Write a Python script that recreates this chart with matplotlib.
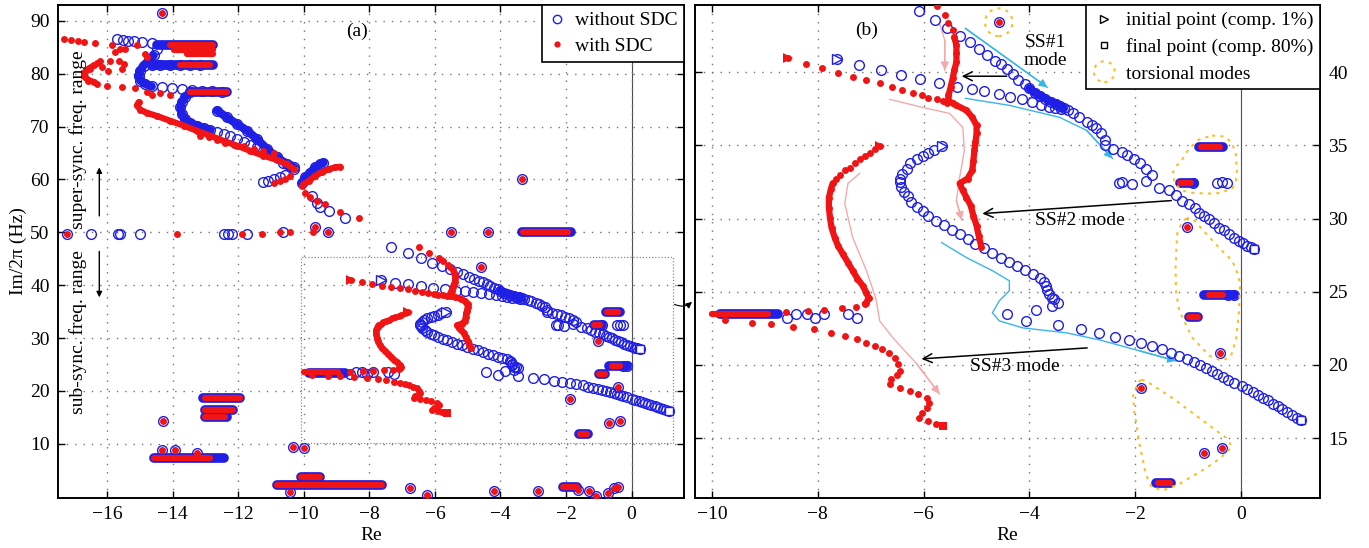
import matplotlib
matplotlib.use("Agg")
import matplotlib.pyplot as plt
import matplotlib.patches as mpatches
from matplotlib.lines import Line2D
from matplotlib.legend_handler import HandlerPatch

BLUE, RED = "#1f1fe6", "#f01414"
CYAN, PINK, GOLD = "#38b6e6", "#f5aaaa", "#f2c12e"

# ---------------- data shared by both panels (Re, Im/2pi) ----------------
# SS#1 without SDC, lower branch (triangle start -> square end)
b_ss1_x = [-7.64, -7.23, -6.81, -6.42, -6.06, -5.70, -5.36, -5.08, -4.85, -4.58, -4.36, -4.15, -3.96,
           -3.79, -3.64, -3.51, -3.40, -3.28, -3.17, -3.06, -2.91, -2.82, -2.74, -2.64, -2.58, -2.57,
           -2.43, -2.26, -2.15, -2.02, -1.92, -1.79, -1.68, -1.55, -1.36, -1.23, -1.11, -0.98, -0.88,
           -0.79, -0.70, -0.60, -0.51, -0.42, -0.32, -0.23, -0.13, -0.04, 0.04, 0.11, 0.18, 0.25]
b_ss1_y = [40.89, 40.48, 40.14, 39.79, 39.52, 39.25, 38.97, 38.84, 38.70, 38.49, 38.29, 38.15, 37.95,
           37.74, 37.60, 37.53, 37.47, 37.40, 37.20, 36.92, 36.58, 36.40, 36.16, 35.82, 35.34, 35.00,
           34.79, 34.52, 34.32, 34.04, 33.77, 33.42, 32.95, 32.12, 31.92, 31.58, 31.23, 31.03, 30.70,
           30.41, 30.20, 30.00, 29.70, 29.38, 29.20, 28.97, 28.70, 28.49, 28.30, 28.15, 28.05, 27.95]
# SS#1 without SDC, upper branch
b_ss1u_x = [-7.33, -6.81, -6.41, -6.08, -5.79, -5.55, -5.32, -5.13, -4.96, -4.81, -4.66, -4.53,
            -4.42, -4.32, -4.21, -4.09, -4.00, -3.90, -3.80, -3.70, -3.60, -3.50, -3.42, -3.35]
b_ss1u_y = [47.30, 46.00, 45.10, 44.20, 43.60, 43.00, 42.50, 42.05, 41.60, 41.20, 40.80, 40.55,
            40.20, 39.90, 39.50, 39.20, 38.90, 38.60, 38.40, 38.20, 38.00, 37.85, 37.70, 37.55]
# SS#2 without SDC
b_ss2_x = [-5.66, -5.81, -5.92, -6.02, -6.13, -6.25, -6.32, -6.40, -6.45, -6.45, -6.43, -6.38, -6.30,
           -6.23, -6.13, -6.02, -5.91, -5.76, -5.62, -5.47, -5.32, -5.17, -5.02, -4.85, -4.70, -4.53,
           -4.38, -4.23, -4.08, -3.94, -3.81, -3.72, -3.68, -3.66, -3.64, -3.58, -3.53, -3.47]
b_ss2_y = [34.93, 34.66, 34.45, 34.25, 34.04, 33.77, 33.42, 33.08, 32.74, 32.47, 32.19, 31.85, 31.51,
           31.16, 30.82, 30.55, 30.21, 29.86, 29.59, 29.25, 28.97, 28.63, 28.29, 28.01, 27.67, 27.33,
           27.05, 26.78, 26.51, 26.23, 25.96, 25.68, 25.41, 25.14, 24.86, 24.59, 24.52, 24.25]
# SS#3 without SDC (square end)
b_ss3_x = [-8.58, -8.42, -8.21, -8.06, -7.89, -7.42, -7.26, -4.43, -4.06, -3.87, -3.58, -3.47, -3.02,
           -2.68, -2.38, -2.11, -1.89, -1.68, -1.49, -1.32, -1.17, -1.02, -0.89, -0.77, -0.66, -0.55,
           -0.45, -0.34, -0.25, -0.13, 0.02, 0.11, 0.23, 0.32, 0.42, 0.51, 0.60, 0.70, 0.77, 0.87,
           0.96, 1.06, 1.13]
b_ss3_y = [23.2, 23.5, 23.5, 23.2, 23.5, 23.5, 23.2, 23.5, 23.0, 23.77, 24.04, 22.74, 22.47, 22.19,
           21.92, 21.71, 21.51, 21.30, 21.10, 20.82, 20.62, 20.41, 20.21, 20.0, 19.79, 19.59, 19.38,
           19.18, 18.97, 18.77, 18.56, 18.36, 18.15, 17.95, 17.74, 17.60, 17.33, 17.19, 16.99, 16.78,
           16.58, 16.37, 16.23]
# SS#1 with SDC (triangle start)
r_ss1_x = [-8.57, -8.23, -7.92, -7.62, -7.34, -7.08, -6.83, -6.60, -6.40, -6.21, -6.04, -5.91, -5.75,
           -5.64, -5.55]
r_ss1_y = [41.0, 40.6, 40.27, 39.93, 39.66, 39.45, 39.25, 38.97, 38.77, 38.56, 38.42, 38.22, 38.15,
           38.01, 37.88]
# SS#2 with SDC (thick)
r_ss2_x = [-6.50, -6.17, -5.89, -5.75, -5.60, -5.53, -5.45, -5.42, -5.38, -5.38, -5.38, -5.42, -5.45,
           -5.49, -5.53, -5.53, -5.45, -5.38, -5.19, -5.08, -5.00, -5.00, -5.02, -5.04, -5.06, -5.08,
           -5.17, -5.32, -5.26, -5.19, -5.11, -5.06, -5.00, -4.96, -4.91]
r_ss2_y = [47.2, 46.0, 45.2, 44.52, 43.9, 43.36, 42.88, 42.4, 41.85, 41.3, 40.7, 40.14, 39.6, 38.97,
           38.42, 38.08, 37.88, 37.74, 37.4, 36.92, 36.37, 35.82, 35.21, 34.66, 33.97, 33.29, 32.74,
           32.4, 31.92, 31.44, 30.89, 30.21, 29.52, 28.84, 28.08]
# second SS#2 with SDC (triangle start), then left along ~23.7 Hz
r_ss2b_x = [-6.83, -6.92, -7.02, -7.11, -7.21, -7.30, -7.40, -7.49, -7.58, -7.66, -7.72, -7.75, -7.79,
            -7.79, -7.77, -7.74, -7.68, -7.62, -7.53, -7.43, -7.34, -7.25, -7.15, -7.08, -7.04, -7.08,
            -7.11, -7.28, -7.55, -7.89, -8.19, -8.60]
r_ss2b_y = [34.93, 34.73, 34.45, 34.25, 34.04, 33.77, 33.49, 33.29, 33.01, 32.74, 32.40, 32.05, 31.44,
            30.75, 30.07, 29.38, 28.70, 28.15, 27.60, 26.99, 26.44, 25.89, 25.41, 24.93, 24.59, 24.25,
            24.18, 23.97, 23.90, 23.77, 23.70, 23.63]
# SS#3 with SDC (square end)
r_ss3_x = [-9.25, -8.89, -8.47, -8.08, -7.75, -7.49, -7.26, -7.08, -6.92, -6.79, -6.66, -6.55, -6.49,
           -6.45, -6.51, -6.62, -6.64, -6.45, -6.26, -6.11, -5.94, -5.89, -5.94, -6.04, -6.08, -5.92,
           -5.77, -5.64]
r_ss3_y = [22.88, 22.8, 22.6, 22.47, 22.19, 21.99, 21.78, 21.51, 21.30, 21.10, 20.82, 20.48, 20.07,
           19.59, 19.32, 19.04, 18.70, 18.42, 18.22, 18.01, 17.74, 17.40, 17.05, 16.71, 16.37, 16.16,
           15.96, 15.82]

# ---------------- super-synchronous region, panel (a) only ----------------
b_sup1_x = [-15.69, -15.52, -15.35, -15.18, -14.94, -14.64, -14.48, -14.58, -14.73, -14.89, -14.99,
            -15.04, -14.99, -14.84, -14.64, -14.33, -14.03, -13.72, -13.41, -13.11, -12.80, -12.49]
b_sup1_y = [86.62, 86.43, 86.24, 86.11, 86.0, 85.8, 84.7, 83.45, 82.5, 81.55, 80.6, 79.66, 78.7,
            78.1, 77.6, 77.45, 77.27, 77.1, 77.0, 76.8, 76.7, 76.6]
b_sup2_x = [-13.47, -13.62, -13.72, -13.77, -13.72, -13.62, -13.47, -13.26, -13.05, -12.85, -12.65,
            -12.45, -12.24, -12.04, -11.84, -11.63, -11.43, -11.23, -11.02, -10.82, -10.62, -10.41, -10.31]
b_sup2_y = [76.5, 75.6, 74.6, 73.7, 72.4, 71.4, 70.7, 70.2, 69.7, 69.3, 69.0, 68.6, 68.2, 67.6, 67.1,
            66.6, 66.1, 65.4, 64.8, 64.2, 63.2, 62.5, 61.9]
b_sup3_x = [-12.65, -12.35, -12.04, -11.73, -11.43, -11.12, -10.82, -10.51, -10.31]
b_sup3_y = [73.02, 71.76, 70.49, 69.23, 67.65, 65.75, 64.17, 62.90, 62.27]
b_nu_x = [-10.06, -9.95, -9.80, -9.65, -9.50, -9.40]
b_nu_y = [59.4, 60.4, 61.3, 62.3, 62.9, 63.2]
b_misc_x = [-11.23, -11.08, -10.92, -10.74, -10.57, -9.75, -9.60, -9.50, -9.24, -8.75,
            -14.64, -14.38, -14.07, -13.77, -13.46, -13.16]
b_misc_y = [59.43, 59.75, 60.0, 60.4, 60.9, 56.9, 55.6, 54.7, 54.0, 52.7,
            81.56, 81.56, 81.56, 81.56, 81.56, 81.56]

r_sup_x = [-15.04, -15.09, -14.99, -14.79, -14.48, -14.08, -13.67, -13.26, -12.86, -12.45, -12.04,
           -11.63, -11.23, -10.82, -10.51, -10.31]
r_sup_y = [74.6, 74.0, 73.2, 72.6, 72.0, 71.1, 70.2, 69.2, 68.3, 67.3, 66.4, 65.4, 64.5, 63.7, 62.9,
           61.95]
r_loop_x = [-16.40, -16.55, -16.67, -16.70, -16.67, -16.57, -16.40]
r_loop_y = [81.6, 81.0, 80.4, 79.8, 79.3, 78.8, 78.4]
r_nu_x = [-10.01, -9.85, -9.65, -9.44, -9.24, -9.04, -8.89]
r_nu_y = [59.1, 59.7, 60.7, 61.4, 61.95, 62.3, 62.4]
r_misc_x = [-17.33, -17.11, -16.90, -16.70, -16.38, -15.85, -15.60, -15.76, -15.91, -16.22, -16.32,
            -16.16, -16.52, -16.57, -16.32, -16.01, -15.55, -15.15, -14.79, -15.45, -15.09, -14.84,
            -14.79, -15.65, -15.48, -15.55, -15.96,
            -14.64, -14.39, -14.08, -13.16, -12.90, -12.65, -12.40, -12.14, -11.84, -11.53, -11.23, -10.92,
            -10.92, -10.74, -10.57, -10.41, -10.06, -9.95, -9.80, -9.60, -9.34, -8.89, -8.31]
r_misc_y = [86.6, 86.3, 86.1, 86.0, 85.8, 85.5, 84.7, 84.1, 82.5, 82.5, 82.1,
            81.25, 80.9, 78.7, 78.1, 77.75, 77.45, 77.27, 76.5, 84.7, 85.35, 83.8,
            83.2, 82.5, 81.9, 80.9, 80.6,
            75.9, 76.3, 76.05, 68.3, 68.0, 67.4, 66.9, 66.6, 66.4, 65.8, 65.4, 65.1,
            59.3, 59.7, 60.1, 60.7, 58.8, 57.5, 56.6, 55.9, 55.3, 53.9, 52.7]

# 50 Hz row and other isolated eigenvalues
b_only_x = [-16.50, -15.66, -15.62, -15.0, -12.45, -12.30, -12.20, -11.73, -10.62,
            -2.30, -2.25, -2.06, -1.79, -0.91, -0.45, -0.36, -0.26, -0.25, -0.13]
b_only_y = [49.6, 49.6, 49.6, 49.6, 49.7, 49.7, 49.7, 49.7, 50.0,
            32.4, 32.53, 32.33, 32.6, 32.45, 32.4, 32.47, 32.4, 24.8, 24.8]
r_only_x = [-13.86, -11.88, -11.27, -10.72, -10.41, -9.71, -9.75]
r_only_y = [49.7, 49.6, 49.6, 50.0, 50.0, 50.0, 23.1]
both_x = [-14.32, -17.22, -9.65, -9.25, -5.50, -4.37, -3.33, -14.29, -14.32, -13.92, -13.25, -10.32,
          -9.98, -10.41, -6.75, -6.23, -4.21, -2.84, -1.62, -1.31, -1.10, -0.73, -0.55, -0.40,
          -4.58, -1.02, -0.40, -1.89, -0.70, -0.36]
both_y = [91.56, 49.6, 51.1, 50.0, 50.0, 50.0, 60.06, 14.3, 8.8, 8.8, 8.2, 9.4,
          9.2, 0.9, 1.6, 0.3, 1.0, 1.0, 1.2, 1.0, 0.1, 0.7, 1.6, 1.8,
          43.42, 29.45, 20.82, 18.42, 13.97, 14.32]

# dense clusters (x_start, x_end, Im)
b_bar_x0 = [-14.48, -14.64, -13.46, -14.56, -13.07, -13.0, -13.0, -10.81, -10.1, -3.33, -9.85,
            -2.08, -0.79, -1.15, -0.70, -0.98, -1.60]
b_bar_x1 = [-12.76, -12.76, -12.35, -12.43, -11.94, -12.15, -12.34, -7.60, -9.5, -1.86, -8.75,
            -1.65, -0.35, -0.90, -0.13, -0.82, -1.32]
b_bar_y = [85.36, 81.56, 76.63, 7.3, 18.7, 16.4, 15.1, 2.2, 3.7, 50.0, 23.45,
           1.8, 34.86, 32.4, 24.8, 23.29, 11.92]
r_bar_x0 = [-14.07, -13.97, -13.56, -13.77, -13.46, -14.56, -13.0, -13.0, -13.0, -10.81, -10.1,
            -3.30, -10.0, -2.08, -0.75, -1.15, -0.60, -0.98, -1.58]
r_bar_x1 = [-12.76, -12.76, -12.76, -12.86, -12.35, -12.85, -11.94, -12.15, -12.40, -7.60, -9.5,
            -1.95, -8.95, -1.65, -0.40, -0.95, -0.35, -0.82, -1.35]
r_bar_y = [85.36, 84.41, 83.78, 81.56, 76.63, 7.3, 18.7, 16.4, 15.1, 2.2, 3.7,
           50.0, 23.5, 1.8, 34.86, 32.4, 24.8, 23.29, 11.92]

# torsional-mode enclosures, panel (b)
tor1_center, tor1_w, tor1_h = (-4.58, 43.42), 0.52, 1.9
tor2_x = [-0.55, -0.30, -0.17, -0.10, -0.08, -0.10, -0.17, -0.40, -0.60, -0.90, -1.13, -1.25, -1.30,
          -1.22, -1.12, -0.98, -0.80, -0.55]
tor2_y = [35.68, 35.60, 35.14, 34.40, 33.29, 32.50, 32.05, 31.75, 31.71, 31.75, 31.92, 32.40, 33.08,
          33.60, 34.00, 34.80, 35.40, 35.68]
tor3_x = [-1.04, -0.94, -0.85, -0.66, -0.42, -0.17, -0.06, -0.02, -0.04, -0.09, -0.19, -0.36, -0.60,
          -0.92, -1.17, -1.23, -1.24, -1.21, -1.12, -1.04]
tor3_y = [30.0, 30.05, 29.73, 28.97, 28.01, 27.12, 26.2, 25.55, 23.7, 21.85, 20.62, 20.27, 20.62,
          21.85, 23.7, 25.0, 26.6, 28.97, 29.7, 30.0]
tor4_x = [-1.88, -1.74, -1.30, -0.79, -0.28, -0.17, -0.40, -0.66, -1.17, -1.49, -1.70, -1.80, -1.92,
          -2.02, -2.04, -1.95, -1.88]
tor4_y = [19.0, 18.77, 17.74, 16.37, 15.0, 14.4, 13.6, 12.95, 11.85, 11.4, 11.7, 12.5, 14.59, 16.85,
          17.9, 18.8, 19.0]

# trend arrows, panel (b)
cyan_paths = [
    ([-5.21, -3.66], [43.0, 38.97]),
    ([-5.21, -4.38, -3.43, -2.92, -2.43], [38.22, 37.74, 36.92, 36.03, 34.11]),
    ([-5.66, -5.19, -4.70, -4.38, -4.38, -4.57, -4.70, -4.57, -4.13, -3.30, -2.68, -1.92, -1.23],
     [28.36, 27.33, 26.44, 25.75, 25.07, 24.38, 23.56, 23.01, 22.53, 22.19, 21.71, 20.96, 20.27]),
]
pink_paths = [
    ([-5.70, -5.60, -5.60], [43.36, 42.2, 40.14]),
    ([-6.64, -6.02, -5.51, -5.26, -5.23, -5.32, -5.38, -5.28],
     [38.15, 37.60, 37.19, 36.23, 34.66, 32.81, 31.23, 29.9]),
    ([-7.21, -7.43, -7.49, -7.34, -7.08, -6.90, -6.83, -6.58, -6.13, -5.70],
     [33.08, 32.40, 31.03, 28.70, 26.44, 24.5, 23.0, 21.85, 20.07, 18.01]),
]
mode_labels = ["SS#1\nmode", "SS#2 mode", "SS#3 mode"]
mode_text_xy = [(-3.70, 41.4), (-3.04, 29.86), (-4.28, 19.9)]
mode_tail_xy = [(-4.43, 39.73), (-1.32, 31.23), (-2.91, 21.16)]
mode_head_xy = [(-5.28, 39.73), (-4.89, 30.34), (-6.04, 20.41)]

plt.rcParams.update({"font.family": ["Liberation Serif", "DejaVu Serif"], "font.size": 14,
                     "axes.linewidth": 1.4})


def blue_traj(ax, x, y, start=None, end=None, dense_from=None, dense_to=None):
    ax.plot(x, y, "o", mfc="none", mec=BLUE, ms=7, mew=1.0, zorder=3)
    if dense_from is not None:
        ax.plot(x[dense_from:dense_to], y[dense_from:dense_to], "-", color=BLUE, lw=6,
                solid_capstyle="round", zorder=3)
    if start:
        ax.plot(x[0], y[0], ">", mfc="white", mec=BLUE, ms=7, mew=1.0, zorder=4)
    if end:
        ax.plot(x[-1], y[-1], "s", mfc="white", mec=BLUE, ms=6, mew=1.0, zorder=4)


def red_traj(ax, x, y, start=None, end=None, dense_from=None, dense_to=None):
    ax.plot(x, y, "o", color=RED, ms=5, mew=0, zorder=5)
    if dense_from is not None:
        ax.plot(x[dense_from:dense_to], y[dense_from:dense_to], "-", color=RED, lw=4.5,
                solid_capstyle="round", zorder=5)
    if start:
        ax.plot(x[0], y[0], ">", color=RED, ms=7, mew=0, zorder=6)
    if end:
        ax.plot(x[-1], y[-1], "s", color=RED, ms=5.5, mew=0, zorder=6)


def draw_data(ax):
    blue_traj(ax, b_ss1_x, b_ss1_y, start=True, end=True)
    blue_traj(ax, b_ss1u_x, b_ss1u_y, dense_from=16)
    blue_traj(ax, b_ss2_x, b_ss2_y, start=True)
    blue_traj(ax, b_ss3_x, b_ss3_y, end=True)
    blue_traj(ax, b_sup1_x, b_sup1_y, dense_from=7, dense_to=15)
    blue_traj(ax, b_sup2_x, b_sup2_y, dense_from=0, dense_to=10)
    blue_traj(ax, b_sup3_x, b_sup3_y, dense_from=0)
    blue_traj(ax, b_nu_x, b_nu_y, dense_from=0)
    blue_traj(ax, b_misc_x, b_misc_y)
    blue_traj(ax, b_only_x, b_only_y)
    blue_traj(ax, both_x, both_y)
    for x0, x1, y in zip(b_bar_x0, b_bar_x1, b_bar_y):
        ax.plot([x0, x1], [y, y], "-", color=BLUE, lw=7, solid_capstyle="round", zorder=3)
    red_traj(ax, r_ss1_x, r_ss1_y, start=True)
    red_traj(ax, r_ss2_x, r_ss2_y, dense_from=7)
    red_traj(ax, r_ss2b_x, r_ss2b_y, start=True, dense_from=10, dense_to=27)
    red_traj(ax, r_ss3_x, r_ss3_y, end=True)
    red_traj(ax, r_sup_x, r_sup_y, dense_from=0)
    red_traj(ax, r_loop_x, r_loop_y, dense_from=0)
    red_traj(ax, r_nu_x, r_nu_y, dense_from=0)
    red_traj(ax, r_misc_x, r_misc_y)
    red_traj(ax, r_only_x, r_only_y)
    red_traj(ax, both_x, both_y)
    for x0, x1, y in zip(r_bar_x0, r_bar_x1, r_bar_y):
        ax.plot([x0, x1], [y, y], "-", color=RED, lw=4.5, solid_capstyle="round", zorder=5)
    ax.axvline(0, color="0.3", lw=0.8, zorder=1)


def style(ax):
    ax.grid(True, ls=(0, (1, 5)), color="0.45", lw=1.0)
    ax.tick_params(direction="in", top=True, right=True, length=5, width=1, labelsize=14, pad=6)
    ax.set_xlabel("Re", fontsize=14, labelpad=3)


fig = plt.figure(figsize=(13.69, 5.48), dpi=100)
axa = fig.add_axes([58 / 1369, 50 / 548, 626 / 1369, 493 / 548])
axb = fig.add_axes([695 / 1369, 50 / 548, 625 / 1369, 493 / 548])

# ---- panel (a)
draw_data(axa)
style(axa)
axa.set_xlim(-17.5, 1.6)
axa.set_ylim(-0.25, 93.0)
axa.set_xticks(range(-16, 1, 2))
axa.set_yticks(range(10, 91, 10))
axa.set_ylabel("Im/2π (Hz)", fontsize=14, labelpad=2)
axa.plot([-10.1, 1.25, 1.25, -10.1, -10.1], [10.2, 10.2, 45.3, 45.3, 10.2], ls=(0, (1, 1.5)),
         color="0.55", lw=0.9, zorder=2)
axa.text(-8.37, 88.0, "(a)", ha="center", va="center", fontsize=14)
axa.text(-16.88, 67.6, "super-sync. freq. range", rotation=90, ha="center", va="center", fontsize=14,
         zorder=8)
axa.text(-16.88, 31.2, "sub-sync. freq. range", rotation=90, ha="center", va="center", fontsize=14,
         zorder=8)
axa.annotate("", xy=(-16.24, 62.3), xytext=(-16.24, 53.1),
             arrowprops=dict(arrowstyle="-|>", color="k", lw=1, mutation_scale=8, shrinkA=0, shrinkB=0))
axa.annotate("", xy=(-16.24, 37.7), xytext=(-16.24, 46.4),
             arrowprops=dict(arrowstyle="-|>", color="k", lw=1, mutation_scale=8, shrinkA=0, shrinkB=0))
ha = [Line2D([], [], ls="none", marker="o", mfc="none", mec=BLUE, ms=6, mew=1.0),
      Line2D([], [], ls="none", marker="o", color=RED, ms=4.5, mew=0)]
axa.legend(ha, ["without SDC", "with SDC"], loc="upper right", borderaxespad=0, fancybox=False,
           edgecolor="k", framealpha=1, fontsize=14, handlelength=0.8, handletextpad=0.5,
           borderpad=0.35, labelspacing=0.4).get_frame().set_linewidth(1.2)

# ---- panel (b)
draw_data(axb)
style(axb)
axb.set_xlim(-10.32, 1.49)
axb.set_ylim(10.9, 44.6)
axb.set_xticks(range(-10, 1, 2))
axb.set_yticks(range(15, 41, 5))
axb.tick_params(labelleft=False, labelright=True)
axb.text(-7.08, 42.9, "(b)", ha="center", va="center", fontsize=14)
axb.add_patch(mpatches.Ellipse(tor1_center, tor1_w, tor1_h, fill=False, ec=GOLD, ls=(0, (1.5, 2.5)),
                               lw=1.5, zorder=6))
for tx, ty in [(tor2_x, tor2_y), (tor3_x, tor3_y), (tor4_x, tor4_y)]:
    axb.plot(tx, ty, ls=(0, (1.5, 2.5)), color=GOLD, lw=1.5, zorder=6)
for paths, col in [(cyan_paths, CYAN), (pink_paths, PINK)]:
    for px, py in paths:
        axb.plot(px, py, color=col, lw=1.0, zorder=2)
        axb.annotate("", xy=(px[-1], py[-1]), xytext=(px[-2], py[-2]),
                     arrowprops=dict(arrowstyle="-|>", color=col, lw=1.0, mutation_scale=12,
                                     shrinkA=0, shrinkB=0), zorder=2)
for lab, txy, tail, head in zip(mode_labels, mode_text_xy, mode_tail_xy, mode_head_xy):
    axb.text(*txy, lab, ha="center", va="center", fontsize=14, linespacing=1.05, zorder=7)
    axb.annotate("", xy=head, xytext=tail,
                 arrowprops=dict(arrowstyle="->", color="k", lw=1.1, mutation_scale=16,
                                 shrinkA=0, shrinkB=0), zorder=7)


def make_circle(legend, orig_handle, xdescent, ydescent, width, height, fontsize):
    return mpatches.Ellipse((width / 2 - xdescent, height / 2 - ydescent), width=15, height=15)


hb = [Line2D([], [], ls="none", marker=">", mfc="none", mec="k", ms=6, mew=1.0),
      Line2D([], [], ls="none", marker="s", mfc="none", mec="k", ms=5, mew=1.0),
      mpatches.Ellipse((0, 0), 1, 1, fill=False, ec=GOLD, ls=(0, (1.5, 2.5)), lw=1.5)]
axb.legend(hb, ["initial point (comp. 1%)", "final point (comp. 80%)", "torsional modes"],
           loc="upper right", borderaxespad=0, fancybox=False, edgecolor="k", framealpha=1,
           fontsize=14, handlelength=1.2, handletextpad=0.5, borderpad=0.35, labelspacing=0.45,
           handler_map={mpatches.Ellipse: HandlerPatch(patch_func=make_circle)}
           ).get_frame().set_linewidth(1.2)

# link from the zoom box in (a) to panel (b)
fig.add_artist(mpatches.FancyArrowPatch((672 / 1369, 1 - 303 / 548), (694 / 1369, 1 - 300 / 548),
                                        transform=fig.transFigure, connectionstyle="arc3,rad=0.4",
                                        arrowstyle="-|>", mutation_scale=9, color="k", lw=0.8))

fig.savefig("out.png", dpi=100)
